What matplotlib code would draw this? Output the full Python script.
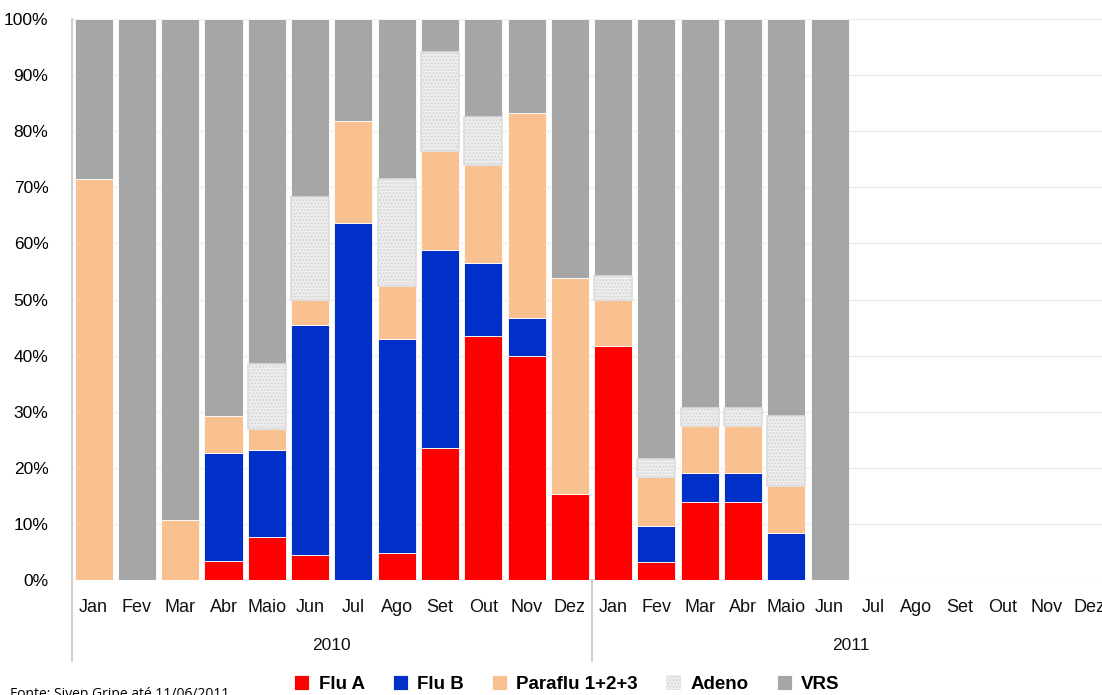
import matplotlib.pyplot as plt
import numpy as np

plt.rcParams['font.family'] = ['Liberation Sans', 'DejaVu Sans']

months = ['Jan', 'Fev', 'Mar', 'Abr', 'Maio', 'Jun', 'Jul', 'Ago', 'Set', 'Out', 'Nov', 'Dez',
          'Jan', 'Fev', 'Mar', 'Abr', 'Maio', 'Jun', 'Jul', 'Ago', 'Set', 'Out', 'Nov', 'Dez']
years = ['2010', '2011']

# percentage of each virus per month (2010 Jan .. 2011 Jun, rest empty)
flu_a = [0, 0, 0, 3.3, 7.7, 4.5, 0, 4.8, 23.5, 43.5, 40.0, 15.4,
         41.7, 3.2, 13.9, 13.9, 0, 0, 0, 0, 0, 0, 0, 0]
flu_b = [0, 0, 0, 19.4, 15.4, 41.0, 63.6, 38.1, 35.3, 13.0, 6.7, 0,
         0, 6.5, 5.1, 5.1, 8.3, 0, 0, 0, 0, 0, 0, 0]
paraflu = [71.5, 0, 10.7, 6.5, 3.9, 4.5, 18.2, 9.5, 17.7, 17.4, 36.6, 38.4,
           8.3, 8.6, 8.4, 8.4, 8.4, 0, 0, 0, 0, 0, 0, 0]
adeno = [0, 0, 0, 0, 11.5, 18.2, 0, 19.0, 17.6, 8.7, 0, 0,
         4.2, 3.2, 3.3, 3.3, 12.5, 0, 0, 0, 0, 0, 0, 0]
vrs = [28.5, 100, 89.3, 70.8, 61.5, 31.8, 18.2, 28.6, 5.9, 17.4, 16.7, 46.2,
       45.8, 78.5, 69.3, 69.3, 70.8, 100, 0, 0, 0, 0, 0, 0]

fig = plt.figure(figsize=(11.02, 6.95), dpi=100)
ax = fig.add_axes([72 / 1102, 115 / 695, 1039 / 1102, 561 / 695])

x = np.arange(len(months))
w = 0.88
bottom = np.zeros(len(months))
series = [('Flu A', flu_a, '#ff0000'), ('Flu B', flu_b, '#0030c8'),
          ('Paraflu 1+2+3', paraflu, '#f9c090'), ('Adeno', adeno, '#efefef'),
          ('VRS', vrs, '#a6a6a6')]
handles = []
for name, vals, col in series:
    vals = np.array(vals)
    m = vals > 0  # skip empty segments
    if name == 'Adeno':
        b = ax.bar(x[m], vals[m], w, bottom=bottom[m], color=col, hatch='.....',
                   edgecolor='#d4d4d4', linewidth=0, zorder=2, label=name)
        ax.bar(x[m], vals[m], w, bottom=bottom[m], fill=False, edgecolor='#dcdcdc',
               linewidth=1.2, zorder=3)
    else:
        b = ax.bar(x[m], vals[m], w, bottom=bottom[m], color=col, edgecolor='#ffffff',
                   linewidth=0.6, zorder=2, label=name)
    handles.append(b)
    bottom += vals

ax.set_xlim(-0.5, len(months) - 0.5)
ax.set_ylim(0, 100)
ax.set_yticks(range(0, 101, 10))
ax.set_yticklabels([f'{v}%' for v in range(0, 101, 10)], fontsize=12.5)
ax.yaxis.grid(True, color='#ececec', linewidth=1, zorder=0)
ax.set_axisbelow(True)
ax.tick_params(axis='y', length=0, pad=17)
ax.tick_params(axis='x', length=0, pad=14)
ax.set_xticks(x)
ax.set_xticklabels(months, fontsize=13, color='#111111')
for s in ['top', 'right', 'bottom']:
    ax.spines[s].set_visible(False)
ax.spines['left'].set_color('#d0d0d0')
ax.spines['left'].set_linewidth(1.5)

# group separators and year labels below the axis
trans = ax.get_xaxis_transform()
for xs in [-0.5, 11.5, 23.5]:
    ax.plot([xs, xs], [0, -0.145], transform=trans, color='#d0d0d0',
            linewidth=1.5, clip_on=False)
for i, yr in enumerate(years):
    ax.text(5.5 + 12 * i, -0.117, yr, transform=trans, ha='center', va='center',
            fontsize=12.5, color='#111111')

fig.legend(handles=handles, loc='center', bbox_to_anchor=(567 / 1102, 11 / 695),
           ncol=5, frameon=False, prop={'weight': 'bold', 'size': 13.5},
           handlelength=0.8, handleheight=0.8, handletextpad=0.5, columnspacing=1.5)

fig.text(10 / 1102, 1 / 695, 'Fonte: Sivep Gripe até 11/06/2011', fontsize=10,
         ha='left', va='center', family=['Open Sans', 'DejaVu Sans'])

fig.savefig('out.png', dpi=100)
